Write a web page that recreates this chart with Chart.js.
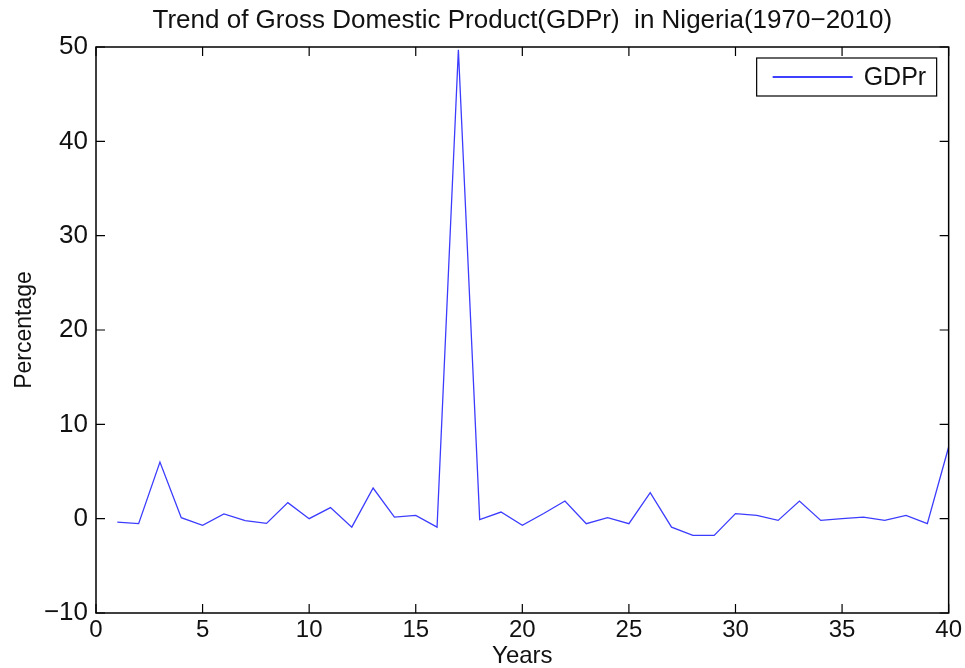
<!DOCTYPE html>
<html>
<head>
<meta charset="utf-8">
<script src="https://cdn.jsdelivr.net/npm/chart.js@4/dist/chart.umd.min.js"></script>
<style>
  html, body { margin: 0; padding: 0; background: #fff; }
  #wrap { width: 965px; height: 668px; }
</style>
</head>
<body>
<div id="wrap"><canvas id="c" width="965" height="668"></canvas></div>
<script>
// Year index (1970 = 1 ... 2010 = 40)
const years = [1,2,3,4,5,6,7,8,9,10,11,12,13,14,15,16,17,18,19,20,
               21,22,23,24,25,26,27,28,29,30,31,32,33,34,35,36,37,38,39,40];
// Growth rate of GDP, percent
const gdpr = [-0.36,-0.53,6.0,0.1,-0.7,0.5,-0.2,-0.5,1.7,0.0,
              1.17,-0.9,3.25,0.17,0.35,-0.9,49.7,-0.1,0.7,-0.7,
              0.55,1.87,-0.53,0.1,-0.53,2.76,-0.9,-1.77,-1.77,0.53,
              0.35,-0.18,1.87,-0.18,0.0,0.17,-0.18,0.35,-0.53,7.6];
const xTicks = [0,5,10,15,20,25,30,35,40];
const yTicks = [-10,0,10,20,30,40,50];
const TITLE = 'Trend of Gross Domestic Product(GDPr)  in Nigeria(1970\u22122010)';

const FONT = '"Liberation Sans", Arial, sans-serif';
const LINE_COLOR = '#3c3cff';

// Title centred over the axes, axes box with inward ticks on all four sides, legend box
const framePlugin = {
  id: 'frame',
  afterDraw(chart) {
    const { ctx, chartArea: a, scales } = chart;
    const len = 9;
    ctx.save();
    ctx.fillStyle = '#111';
    ctx.font = '26px ' + FONT;
    ctx.textAlign = 'center';
    ctx.textBaseline = 'middle';
    ctx.fillText(TITLE, (a.left + a.right) / 2, a.top - 26);

    ctx.strokeStyle = '#000';
    ctx.lineWidth = 1.5;
    ctx.strokeRect(a.left, a.top, a.right - a.left, a.bottom - a.top);
    ctx.lineWidth = 1.2;
    ctx.beginPath();
    xTicks.forEach(v => {
      const px = scales.x.getPixelForValue(v);
      ctx.moveTo(px, a.bottom); ctx.lineTo(px, a.bottom - len);
      ctx.moveTo(px, a.top); ctx.lineTo(px, a.top + len);
    });
    yTicks.forEach(v => {
      const py = scales.y.getPixelForValue(v);
      ctx.moveTo(a.left, py); ctx.lineTo(a.left + len, py);
      ctx.moveTo(a.right, py); ctx.lineTo(a.right - len, py);
    });
    ctx.stroke();

    // legend
    const ds = chart.data.datasets[0];
    const bx = a.right - 192, by = a.top + 11, bw = 180, bh = 38;
    ctx.fillStyle = '#fff';
    ctx.fillRect(bx, by, bw, bh);
    ctx.lineWidth = 1.2;
    ctx.strokeStyle = '#000';
    ctx.strokeRect(bx, by, bw, bh);
    ctx.strokeStyle = '#0000ff';
    ctx.lineWidth = 1.3;
    ctx.beginPath();
    ctx.moveTo(bx + 16, by + bh / 2);
    ctx.lineTo(bx + 96, by + bh / 2);
    ctx.stroke();
    ctx.fillStyle = '#111';
    ctx.font = '25px ' + FONT;
    ctx.textAlign = 'left';
    ctx.fillText(ds.label, bx + 107, by + bh / 2 + 1);
    ctx.restore();
  }
};

new Chart(document.getElementById('c'), {
  type: 'line',
  data: {
    datasets: [{
      label: 'GDPr',
      data: years.map((y, i) => ({ x: y, y: gdpr[i] })),
      borderColor: LINE_COLOR,
      borderWidth: 1.3,
      pointRadius: 0,
      tension: 0,
      fill: false
    }]
  },
  options: {
    responsive: false,
    animation: false,
    layout: { padding: { left: 0, right: 16, top: 47, bottom: 0 } },
    plugins: {
      legend: { display: false },
      tooltip: { enabled: false },
      title: { display: false }
    },
    scales: {
      x: {
        type: 'linear',
        min: 0, max: 40,
        afterBuildTicks(s) { s.ticks = xTicks.map(v => ({ value: v })); },
        afterFit(s) { s.height = 55; },
        grid: { display: false, drawTicks: false },
        border: { display: false },
        ticks: { color: '#111', font: { family: FONT, size: 24 }, padding: 3, maxRotation: 0 },
        title: { display: true, text: 'Years', color: '#111', font: { family: FONT, size: 24 }, padding: { top: 0, bottom: -3 } }
      },
      y: {
        type: 'linear',
        min: -10, max: 50,
        afterBuildTicks(s) { s.ticks = yTicks.map(v => ({ value: v })); },
        afterFit(s) { s.width = 96; },
        grid: { display: false, drawTicks: false },
        border: { display: false },
        ticks: {
          color: '#111', font: { family: FONT, size: 26 }, padding: 8,
          callback: v => (v < 0 ? '\u2212' + Math.abs(v) : String(v))
        },
        title: { display: true, text: 'Percentage', color: '#111', font: { family: FONT, size: 23 }, padding: { top: 11, bottom: 0 } }
      }
    }
  },
  plugins: [framePlugin]
});
</script>
</body>
</html>
